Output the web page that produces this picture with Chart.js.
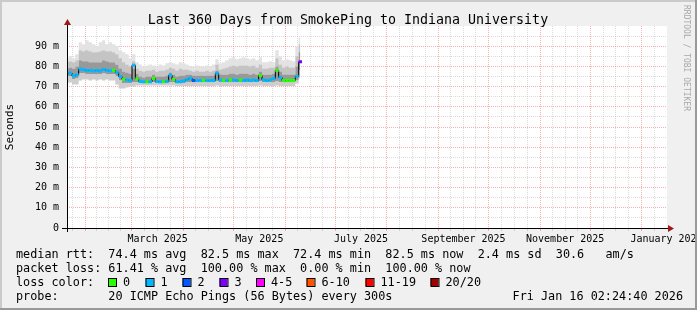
<!DOCTYPE html>
<html>
<head>
<meta charset="utf-8">
<script src="https://cdn.jsdelivr.net/npm/chart.js@4.4.1/dist/chart.umd.min.js"></script>
<style>
  html, body { margin: 0; padding: 0; background: #f0f0f0; }
  canvas { display: block; }
</style>
</head>
<body>
<canvas id="smoke" width="697" height="310"></canvas>
<script>
// sample times, days since start of graph (Jan 21 2025 02:24:40)
const days = [0, 2, 4, 6, 8, 10, 12, 14, 16, 18, 20, 22, 24, 26, 28, 30, 32, 34, 36, 38,
  40, 42, 44, 46, 48, 50, 52, 54, 56, 58, 60, 62, 64, 66, 68, 70, 72, 74, 76, 78,
  80, 82, 84, 86, 88, 90, 92, 94, 96, 98, 100, 102, 104, 106, 108, 110, 112, 114, 116, 118,
  120, 122, 124, 126, 128, 130, 132, 134, 136, 138, 140];

// median rtt in ms
const median = [76.7, 76.7, 75.3, 75.8, 78.7, 78.3, 78.0, 78.0, 77.8, 78.0,
  77.7, 78.5, 78.0, 77.8, 78.0, 77.0, 75.0, 73.6, 73.3, 73.0,
  80.6, 73.8, 72.6, 72.4, 72.4, 72.4, 74.0, 72.5, 72.4, 72.4,
  72.6, 75.6, 73.5, 72.4, 72.4, 72.8, 73.5, 74.2, 73.0, 73.0,
  73.0, 73.0, 73.0, 73.0, 73.0, 76.6, 73.3, 73.0, 73.0, 73.3,
  73.3, 73.0, 73.3, 73.0, 73.3, 73.0, 73.3, 73.0, 75.5, 73.3,
  73.0, 73.3, 74.0, 78.0, 74.5, 73.0, 73.0, 73.0, 73.0, 75.0, 82.3];

// lost pings per sample (index into lossColors)
const loss = [1, 1, 1, 1, 1, 1, 1, 1, 1, 1,
  1, 1, 1, 1, 0, 1, 1, 0, 1, 1,
  1, 0, 1, 1, 0, 1, 0, 1, 1, 0,
  1, 1, 0, 1, 1, 1, 1, 1, 2, 1,
  1, 0, 1, 1, 1, 1, 1, 0, 1, 0,
  1, 1, 0, 1, 1, 1, 1, 1, 0, 1,
  1, 1, 1, 0, 1, 0, 0, 0, 0, 1, 3];

// smoke envelope (ms)
const smokeMin = [72, 72, 71, 71, 73, 73.5, 73.5, 73, 73.5, 73,
  73.5, 73, 73.5, 73, 73, 71, 69, 69, 69.5, 70,
  70, 70.5, 70.5, 70.5, 70.5, 70.5, 70.5, 70.5, 70.5, 70.5,
  70.5, 70.5, 70.5, 70.3, 70.3, 70.3, 70.3, 70.3, 70.3, 70.3,
  70.3, 70.3, 70.3, 70.3, 70.3, 70.5, 70.3, 70.3, 70.3, 70.3,
  70.3, 70.3, 70.3, 70.3, 70.3, 70.3, 70.3, 70.3, 70.5, 70.3,
  70.3, 70.3, 70.3, 70.5, 70.3, 70.3, 70.3, 70.3, 70.3, 71.5, 74];
const smokeLo = [75, 75, 73.5, 74, 76.5, 76.5, 76, 76, 76, 76,
  76, 76.5, 76, 76, 76, 75, 73, 71.5, 71.5, 71.5,
  72, 72, 71.5, 71.5, 71.5, 71.5, 72, 71.5, 71.5, 71.5,
  71.5, 72, 72, 71.5, 71.5, 71.5, 72, 72, 72, 72,
  72, 72, 72, 72, 72, 72.5, 72, 72, 72, 72,
  72, 72, 72, 72, 72, 72, 72, 72, 72.5, 72,
  72, 72, 72, 72.5, 72, 72, 72, 72, 72, 73, 78];
const smokeHi = [79, 79.5, 79, 80, 83, 82.5, 82.5, 82, 82, 82,
  82, 83, 82.5, 82, 82, 81, 79, 77.5, 77, 76.5,
  79, 76.5, 75, 74.5, 75, 75, 76, 75, 75, 75,
  75.5, 77, 76, 75, 75.5, 75.5, 76, 76, 75.5, 75.5,
  75.5, 75.5, 75.5, 75.5, 75.5, 78, 76, 76, 76, 76.5,
  76.5, 76, 76.5, 76.5, 76.5, 76, 76.5, 76, 77.5, 76,
  76, 76, 76.5, 80, 77.5, 76, 76, 76, 76, 80, 87];
const smokeUp = [82, 82.5, 82, 83, 88, 87.5, 88, 87.5, 87, 87,
  87.5, 88, 87.5, 87.5, 87, 86, 84, 82, 81, 80,
  82.5, 79, 78, 77.5, 78, 78, 78.5, 77.5, 78, 78,
  78.5, 79.5, 79, 78, 79, 78.5, 78.5, 78, 77.5, 78,
  77.5, 77.5, 78, 77.5, 78, 81, 78.5, 79, 79.5, 80,
  80.5, 80, 80.5, 80.5, 80.5, 80, 80.5, 79.5, 81, 79,
  79, 79.5, 79.5, 84, 81, 79.5, 80, 79.5, 79.5, 85, 91];
const smokeMax = [84, 85, 84, 86, 92, 91, 93, 92, 91, 90,
  92, 93, 91, 92, 91, 90, 88, 87, 86, 84,
  86, 82, 81, 80, 80.5, 81, 80.5, 80, 81, 80.5,
  81.5, 82, 81.5, 81, 82, 81.5, 81, 80, 80, 80.5,
  80, 80, 80.5, 80, 81, 83.5, 81.5, 82, 83, 84,
  84.5, 83.5, 84, 84.5, 84, 83.5, 84, 83, 84.5, 82,
  82, 82.5, 82, 88, 85, 83, 83.5, 83, 82.5, 90, 94];

const lossLabels = ['0', '1', '2', '3', '4-5', '6-10', '11-19', '20/20'];
const lossColors = ['#26ff00', '#00b8ff', '#0059ff', '#7e00ff', '#ff00ff', '#ff5500', '#ff0000', '#a10000'];

const xLabelMonths = [[2025, 2], [2025, 4], [2025, 6], [2025, 8], [2025, 10], [2026, 0]];
const xLabels = ['March 2025', 'May 2025', 'July 2025', 'September 2025', 'November 2025', 'January 2026'];

const title = 'Last 360 Days from SmokePing to Indiana University';
const statLines = [
  'median rtt:  74.4 ms avg  82.5 ms max  72.4 ms min  82.5 ms now  2.4 ms sd  30.6   am/s',
  'packet loss: 61.41 % avg  100.00 % max  0.00 % min  100.00 % now'
];
const probeText = 'probe:       20 ICMP Echo Pings (56 Bytes) every 300s';
const stampText = 'Fri Jan 16 02:24:40 2026';

const T0 = Date.UTC(2025, 0, 21, 2, 24, 40);
const DAY = 86400000;
const SPAN = 360;
function dayOf(y, m, d) { return (Date.UTC(y, m, d) - T0) / DAY; }

// month lines (red), quarter-month lines (grey), label positions mid-month
const xTicks = [];
for (let k = 0; k < 13; k++) {
  const a = dayOf(2025, k, 1), b = dayOf(2025, k + 1, 1);
  if (a >= 0 && a <= SPAN) xTicks.push({ value: a, kind: 'major' });
  for (let q = 1; q < 4; q++) {
    const v = a + (b - a) * q / 4;
    if (v >= 0 && v <= SPAN) xTicks.push({ value: v, kind: 'minor' });
  }
}
xLabelMonths.forEach((ym, i) => {
  const a = dayOf(ym[0], ym[1], 1), b = dayOf(ym[0], ym[1] + 1, 1);
  xTicks.push({ value: Math.min(a + (b - a) / 2, SPAN - 0.3), kind: 'label', text: xLabels[i] });
});
xTicks.sort((p, q) => p.value - q.value);

const pts = arr => arr.map((v, i) => ({ x: days[i], y: v }));
const MONO = '"DejaVu Sans Mono", "Liberation Mono", monospace';
const MGRID = 'rgba(235, 80, 80, 0.45)';
const GRID = 'rgba(160, 160, 160, 0.38)';

function band(data, color) {
  return { data: pts(data), fill: '-1', backgroundColor: color, borderWidth: 0,
    pointRadius: 0, stepped: 'middle', order: 2 };
}

const frame = {
  id: 'frame',
  beforeDraw(chart) {
    const ctx = chart.ctx, a = chart.chartArea;
    ctx.save();
    ctx.fillStyle = '#f0f0f0';
    ctx.fillRect(0, 0, chart.width, chart.height);
    ctx.fillStyle = '#ffffff';
    ctx.fillRect(a.left, a.top, a.right - a.left, a.bottom - a.top);
    ctx.restore();
  },
  afterDraw(chart) {
    const ctx = chart.ctx, a = chart.chartArea;
    const W = chart.width, H = chart.height;
    ctx.save();
    // shaded frame
    ctx.fillStyle = '#cbcbcb';
    ctx.fillRect(0, 0, W, 2);
    ctx.fillRect(0, 0, 2, H);
    ctx.fillStyle = '#999999';
    ctx.fillRect(0, H - 2, W, 2);
    ctx.fillRect(W - 2, 0, 2, H);

    // axes
    ctx.strokeStyle = '#000000';
    ctx.lineWidth = 1;
    ctx.beginPath();
    ctx.moveTo(a.left - 5, a.bottom + 0.5);
    ctx.lineTo(a.right + 2, a.bottom + 0.5);
    ctx.moveTo(a.left + 0.5, a.bottom + 4);
    ctx.lineTo(a.left + 0.5, a.top - 2);
    ctx.stroke();
    ctx.fillStyle = '#a01818';
    ctx.beginPath();
    ctx.moveTo(a.right + 1, a.bottom - 3);
    ctx.lineTo(a.right + 7, a.bottom + 0.5);
    ctx.lineTo(a.right + 1, a.bottom + 4);
    ctx.closePath();
    ctx.fill();
    ctx.beginPath();
    ctx.moveTo(a.left - 3, a.top - 1);
    ctx.lineTo(a.left + 0.5, a.top - 7);
    ctx.lineTo(a.left + 4, a.top - 1);
    ctx.closePath();
    ctx.fill();

    // title
    ctx.fillStyle = '#000000';
    ctx.font = '13.3px ' + MONO;
    ctx.textAlign = 'center';
    ctx.textBaseline = 'alphabetic';
    ctx.fillText(title, 348, 24);

    // y axis title
    ctx.save();
    ctx.translate(10, 127);
    ctx.rotate(-Math.PI / 2);
    ctx.font = '11px ' + MONO;
    ctx.textAlign = 'center';
    ctx.textBaseline = 'middle';
    ctx.fillText('Seconds', 0, 0);
    ctx.restore();

    // watermark
    ctx.save();
    ctx.translate(686, 5);
    ctx.rotate(Math.PI / 2);
    ctx.font = '8px ' + MONO;
    ctx.fillStyle = '#a8a8a8';
    ctx.textAlign = 'left';
    ctx.textBaseline = 'middle';
    ctx.fillText('RRDTOOL / TOBI OETIKER', 0, 0);
    ctx.restore();

    // statistics
    ctx.font = '11.8px ' + MONO;
    ctx.textAlign = 'left';
    ctx.textBaseline = 'alphabetic';
    ctx.fillText(statLines[0], 16, 258);
    ctx.fillText(statLines[1], 16, 272);
    ctx.fillText('loss color:', 16, 286);
    const boxX = [108, 145.5, 182.5, 219.5, 256, 306.5, 365.5, 430.5];
    lossLabels.forEach((lab, i) => {
      ctx.fillStyle = lossColors[i];
      ctx.fillRect(boxX[i], 278, 8, 8);
      ctx.strokeStyle = '#000000';
      ctx.strokeRect(boxX[i] + 0.5, 278.5, 8, 8);
      ctx.fillStyle = '#000000';
      ctx.fillText(lab, boxX[i] + 15, 286);
    });
    ctx.fillText(probeText, 16, 300);
    ctx.textAlign = 'right';
    ctx.fillText(stampText, 683, 300);
    ctx.restore();
  }
};

new Chart(document.getElementById('smoke'), {
  type: 'line',
  data: {
    datasets: [
      { data: pts(smokeMin), fill: false, borderWidth: 0, pointRadius: 0, stepped: 'middle', order: 2 },
      band(smokeLo, '#cdcdcd'),
      band(smokeHi, '#999999'),
      band(smokeUp, '#c4c4c4'),
      band(smokeMax, '#e3e3e3'),
      { data: pts(median), showLine: true, fill: false, borderColor: '#000000', borderWidth: 1,
        pointRadius: 0, stepped: 'middle', order: 1 },
      { data: pts(median), showLine: false, pointStyle: 'line', pointRadius: 1.7, pointBorderWidth: 3,
        pointBorderColor: c => lossColors[loss[c.dataIndex]], order: 0 }
    ]
  },
  options: {
    responsive: false,
    animation: false,
    events: [],
    layout: { padding: { left: 0, right: 30, top: 26, bottom: 0 } },
    plugins: { legend: { display: false }, tooltip: { enabled: false }, title: { display: false } },
    scales: {
      x: {
        type: 'linear',
        min: 0,
        max: SPAN,
        z: 1,
        afterBuildTicks: s => { s.ticks = xTicks.map(t => ({ ...t })); },
        afterFit: s => { s.height = 82; s.paddingLeft = 0; s.paddingRight = 0; },
        border: { display: false, dash: [1, 1] },
        grid: {
          color: c => c.tick && c.tick.kind === 'major' ? MGRID : (c.tick && c.tick.kind === 'minor' ? GRID : 'rgba(0,0,0,0)'),
          tickLength: 3,
          lineWidth: 1
        },
        ticks: {
          autoSkip: false,
          maxRotation: 0,
          minRotation: 0,
          padding: 2,
          color: '#000000',
          font: { family: MONO, size: 10 },
          callback: (v, i, ticks) => ticks[i].kind === 'label' ? ticks[i].text : ''
        }
      },
      y: {
        min: 0,
        max: 100,
        z: 1,
        afterFit: s => { s.width = 67; },
        border: { display: false, dash: [1, 1] },
        grid: {
          color: c => {
            const v = c.tick ? c.tick.value : 0;
            if (v === 0 || v === 100) return 'rgba(0,0,0,0)';
            return v % 10 === 0 ? MGRID : GRID;
          },
          drawTicks: false
        },
        ticks: {
          stepSize: 5,
          autoSkip: false,
          padding: 8,
          color: '#000000',
          font: { family: MONO, size: 10 },
          callback: v => (v % 10 === 0 && v < 100) ? (v === 0 ? '0' : v + ' m') : ''
        }
      }
    }
  },
  plugins: [frame]
});
</script>
</body>
</html>
